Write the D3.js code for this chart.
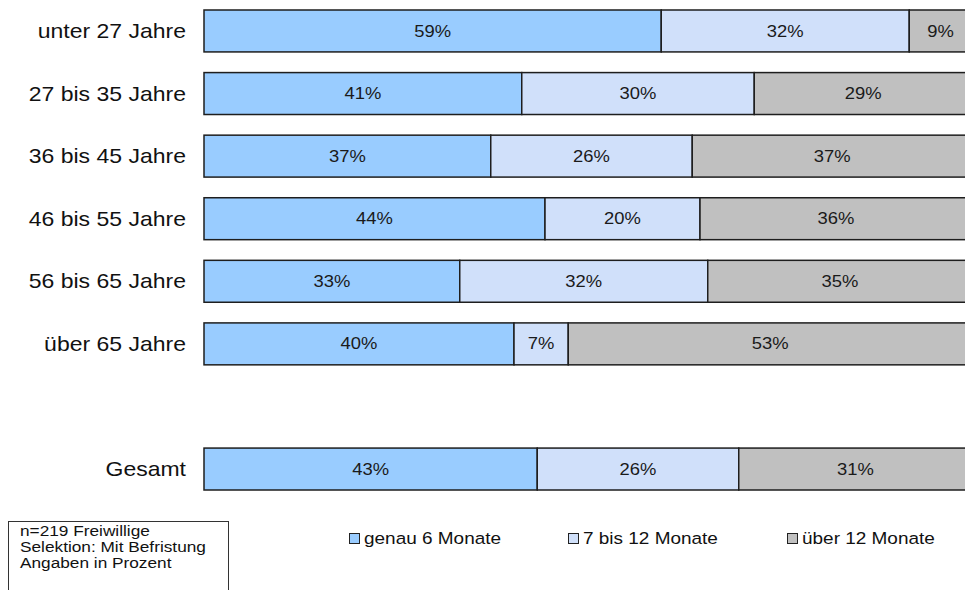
<!DOCTYPE html>
<html>
<head>
<meta charset="utf-8">
<script src="https://cdn.jsdelivr.net/npm/d3@7"></script>
<style>
  html, body { margin: 0; padding: 0; background: #fff; }
  svg { display: block; font-family: "Liberation Sans", Arial, sans-serif; }
</style>
</head>
<body>
<svg id="chart" width="965" height="590"></svg>
<script>
// Befristungsdauer nach Altersgruppen (Anteile in Prozent)
const categories = ["unter 27 Jahre", "27 bis 35 Jahre", "36 bis 45 Jahre", "46 bis 55 Jahre",
                    "56 bis 65 Jahre", "über 65 Jahre", "", "Gesamt"];
const seriesNames = ["genau 6 Monate", "7 bis 12 Monate", "über 12 Monate"];
const genau6   = [59, 41, 37, 44, 33, 40, null, 43];
const bis12    = [32, 30, 26, 20, 32, 7, null, 26];
const ueber12  = [9, 29, 37, 36, 35, 53, null, 31];
const noteLines = ["n=219 Freiwillige", "Selektion: Mit Befristung", "Angaben in Prozent"];

const colors = ["#99CCFF", "#D0E0FA", "#C0C0C0"];
const seriesValues = [genau6, bis12, ueber12];

// text is set slightly wide
const SX = 1.15;
const place = (x, y) => `translate(${x},${y}) scale(${SX},1)`;

const svg = d3.select("#chart");

const x = d3.scaleLinear().domain([0, 100]).range([204, 979]);
const y = d3.scaleBand().domain(categories).range([10, 490]).paddingInner(0.33).paddingOuter(0);

// stacked rows (the empty category is a spacer)
const rows = categories.map((c, i) => {
  const r = { cat: c };
  seriesNames.forEach((s, k) => r[s] = seriesValues[k][i]);
  return r;
}).filter(r => r.cat !== "");

const stacked = d3.stack().keys(seriesNames)(rows);

const g = svg.append("g");
stacked.forEach((layer, k) => {
  const lg = g.append("g");
  lg.selectAll("rect").data(layer).join("rect")
    .attr("x", d => x(d[0]))
    .attr("y", d => y(d.data.cat))
    .attr("width", d => x(d[1]) - x(d[0]))
    .attr("height", y.bandwidth())
    .attr("fill", colors[k])
    .attr("stroke", "#1e1e1e")
    .attr("stroke-width", 1.5);
  lg.selectAll("text").data(layer).join("text")
    .attr("transform", d => place((x(d[0]) + Math.min(x(d[1]), 972)) / 2,
                                  y(d.data.cat) + y.bandwidth() / 2))
    .attr("dy", "0.35em")
    .attr("text-anchor", "middle")
    .attr("font-size", 16)
    .attr("fill", "#1a1a1a")
    .text(d => (d[1] - d[0]) + "%");
});

// category labels
svg.append("g").selectAll("text").data(rows).join("text")
  .attr("transform", d => place(186, y(d.cat) + y.bandwidth() / 2))
  .attr("dy", "0.35em")
  .attr("text-anchor", "end")
  .attr("font-size", 20)
  .attr("fill", "#111")
  .text(d => d.cat);

// legend
const legendX = [349, 568, 787];
const legend = svg.append("g");
seriesNames.forEach((s, k) => {
  legend.append("rect")
    .attr("x", legendX[k] + 0.5).attr("y", 533.5)
    .attr("width", 10).attr("height", 10)
    .attr("fill", colors[k]).attr("stroke", "#222").attr("stroke-width", 1);
  legend.append("text")
    .attr("transform", place(legendX[k] + 15, 538))
    .attr("dy", "0.35em")
    .attr("font-size", 16.5)
    .attr("fill", "#111")
    .text(s);
});

// note box
const note = svg.append("g");
note.append("rect")
  .attr("x", 8.5).attr("y", 521.5).attr("width", 220).attr("height", 80)
  .attr("fill", "#fff").attr("stroke", "#333").attr("stroke-width", 1);
note.selectAll("text").data(noteLines).join("text")
  .attr("transform", (d, i) => place(20, 536 + i * 16))
  .attr("font-size", 15)
  .attr("fill", "#111")
  .text(d => d);
</script>
</body>
</html>
